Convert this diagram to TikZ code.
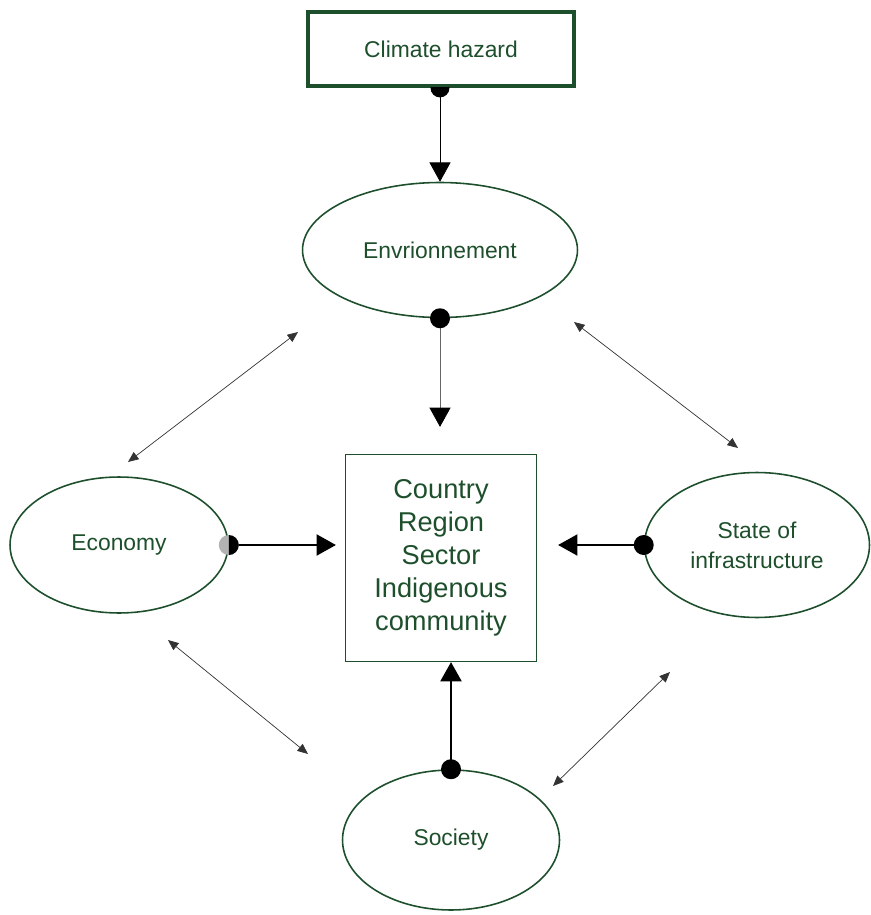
\documentclass[tikz,border=0pt]{standalone}
\usepackage{fontspec}
\setmainfont{Liberation Sans}
\usetikzlibrary{shapes.geometric,arrows.meta}
\definecolor{darkgreen}{HTML}{1E4F2C}
\begin{document}
\begin{tikzpicture}[x=0.02cm,y=-0.02cm,
    blob/.style={ellipse,draw=darkgreen,line width=0.9pt,text=darkgreen,
      font=\fontsize{13}{17}\selectfont,align=center},
    link/.style={-{Triangle[width=12pt,length=11pt,black]},draw=black},
    both/.style={{Triangle[width=5pt,length=6pt]}-{Triangle[width=5pt,length=6pt]},
      line width=0.4pt,draw=black!80}]
  \useasboundingbox (0,0) rectangle (870,915);
  \node[draw=darkgreen,line width=2.2pt,minimum width=5.32cm,minimum height=1.48cm,
    text=darkgreen,font=\fontsize{13}{17}\selectfont] (hazard) at (441,49) {Climate hazard};
  \node[blob,minimum width=5.5cm,minimum height=2.7cm] (env) at (440,250) {Envrionnement};
  \node[blob,minimum width=4.36cm,minimum height=2.72cm] (eco) at (119,545) {Economy};
  \node[blob,minimum width=4.5cm,minimum height=2.9cm] (infra) at (757,545) {State of\\infrastructure};
  \node[blob,minimum width=4.34cm,minimum height=2.8cm] (soc) at (451,840) {Society};
  \node[draw=darkgreen,line width=0.7pt,minimum width=3.82cm,minimum height=4.14cm,
    text=darkgreen,align=center,font=\fontsize{15.5}{18.7}\selectfont] (unit) at (441,558)
    {Country\\Region\\Sector\\Indigenous\\community};
  \draw[link,line width=0.5pt] (hazard.south -| env.north) -- (env.north);
  \draw[link,line width=0.5pt,draw=black!60] (env.south) -- ([yshift=0.54cm]env.south |- unit.north);
  \draw[link,line width=1pt] (eco.east) -- ([xshift=-0.18cm]eco.east -| unit.west);
  \draw[link,line width=1pt] (infra.west) -- ([xshift=0.42cm]infra.west -| unit.east);
  \draw[link,line width=1.3pt] (soc.north) -- (soc.north |- unit.south);
  \begin{scope}
    \clip ([xshift=-0.3cm]hazard.south) rectangle ++(30,15);
    \fill (hazard.south -| env.north) circle (0.19cm);
  \end{scope}
  \fill[gray!60] (eco.east) circle (0.2cm);
  \begin{scope}
    \clip (eco.east) ++(0,-15) rectangle ++(15,30);
    \fill (eco.east) circle (0.2cm);
  \end{scope}
  \foreach \n/\a in {env/south,infra/west,soc/north}
    \fill (\n.\a) circle (0.2cm);
  \coordinate (ne1) at (298,332); \coordinate (ne2) at (128,462);
  \coordinate (ni1) at (574,322); \coordinate (ni2) at (738,448);
  \coordinate (se1) at (168,640); \coordinate (se2) at (308,754);
  \coordinate (si1) at (670,672); \coordinate (si2) at (553,786);
  \foreach \p in {ne,ni,se,si}
    \draw[both] (\p1) -- (\p2);
\end{tikzpicture}
\end{document}
